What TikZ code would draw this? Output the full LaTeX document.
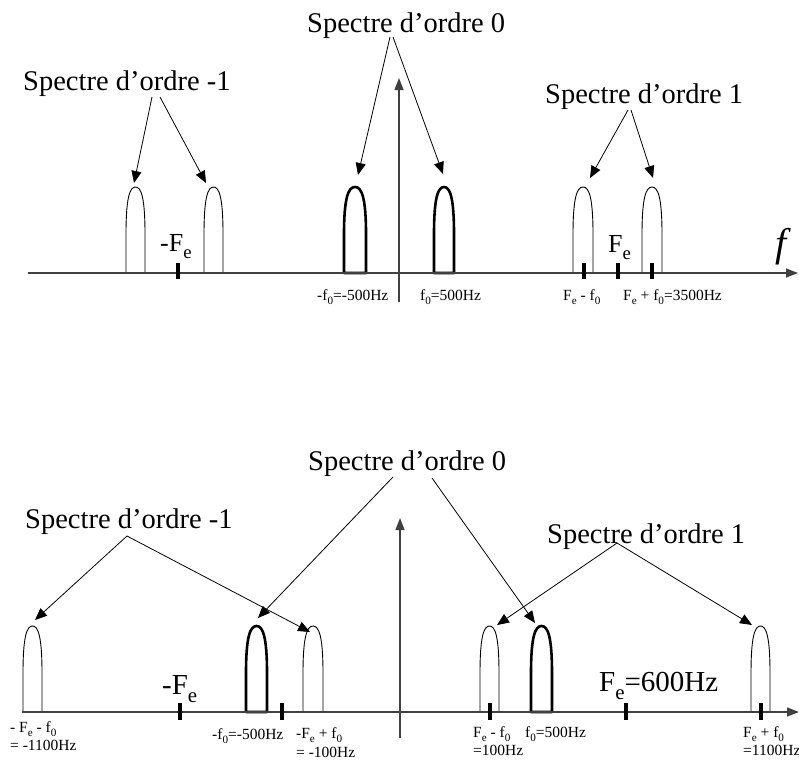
\documentclass[tikz,border=0pt]{standalone}
\usepackage{fontspec}
\setmainfont{Liberation Serif}
\usetikzlibrary{arrows.meta}
\newcommand\sbs[1]{\raisebox{-0.28em}{\scalebox{0.72}{#1}}}
\newcommand\drawlobe[5]{%
  \draw[#5] (#1,#3) -- (#1,{#3-0.45*(#3-#4)})
    .. controls (#1,{#4+0.12*(#3-#4)}) and ({#1+0.2*(#2-#1)},#4) .. ({(#1+#2)/2},#4)
    .. controls ({#2-0.2*(#2-#1)},#4) and (#2,{#4+0.12*(#3-#4)}) .. (#2,{#3-0.45*(#3-#4)})
    -- (#2,#3) -- cycle;}
\tikzset{
  big/.style={anchor=base west,inner sep=0pt,font=\fontsize{28.5}{30}\selectfont},
  mid/.style={anchor=base west,inner sep=0pt,font=\fontsize{26}{28}\selectfont},
  small/.style={anchor=base west,inner sep=0pt,font=\fontsize{15.5}{17}\selectfont},
  axisline/.style={line width=1.4pt,draw=black!75,-{Triangle[length=12pt,width=9pt]}},
  pointer/.style={line width=0.8pt,-{Triangle[length=12pt,width=10pt]}},
  thin lobe/.style={line width=0.9pt},
  thick lobe/.style={line width=2.6pt,line join=round},
  tickmark/.style={line width=3.5pt}
}
\begin{document}
\begin{tikzpicture}[x=1pt,y=-1pt]
\useasboundingbox (0,0) rectangle (799,771);
% ================= TOP =================
\drawlobe{126}{145}{273}{187}{thin lobe}
\drawlobe{204}{223}{273}{187}{thin lobe}
\drawlobe{344}{366}{273}{187}{thick lobe}
\drawlobe{434}{454}{273}{187}{thick lobe}
\drawlobe{573}{593}{273}{187}{thin lobe}
\drawlobe{642}{662}{273}{187}{thin lobe}
\coordinate (ha) at (28,273);
\coordinate (hb) at (798,273);
\draw[axisline] (ha) -- (hb);
\coordinate (va) at (399,302);
\coordinate (vb) at (399,78);
\draw[axisline] (va) -- (vb);
\foreach \x/\n in {178/ta,584/tb,618/tc,652/td}{
  \coordinate (\n1) at (\x,263); \coordinate (\n2) at (\x,279);
  \draw[tickmark] (\n1) -- (\n2);}
\node[big] (tm1) at (23,90) {Spectre d’ordre -1};
\node[big] (t0) at (307,32) {Spectre d’ordre 0};
\node[big] (tp1) at (545,103) {Spectre d’ordre 1};
\node[mid] (tfe1) at (160,251) {-F\sbs{e}};
\node[mid] (tfe2) at (608,252) {F\sbs{e}};
\node[anchor=base west,inner sep=0pt,font=\fontsize{40}{42}\selectfont\itshape] (tf) at (775,256) {f};
\node[small] (tl1) at (317,300) {-f\sbs{0}=-500Hz};
\node[small] (tl2) at (420,300) {f\sbs{0}=500Hz};
\node[small] (tl3) at (563,300) {F\sbs{e} - f\sbs{0}};
\node[small] (tl4) at (623,300) {F\sbs{e} + f\sbs{0}=3500Hz};
\coordinate (am1a) at (152,97); \coordinate (am1b) at (160,97);
\coordinate (ta1) at (134,183); \coordinate (ta2) at (206,183);
\coordinate (a0a) at (390,37); \coordinate (a0b) at (393,37);
\coordinate (ta3) at (358,175); \coordinate (ta4) at (443,174);
\coordinate (ap1a) at (628,110); \coordinate (ap1b) at (631,110);
\coordinate (ta5) at (590,178); \coordinate (ta6) at (653,178);
\draw[pointer] (am1a) -- (ta1);
\draw[pointer] (am1b) -- (ta2);
\draw[pointer] (a0a) -- (ta3);
\draw[pointer] (a0b) -- (ta4);
\draw[pointer] (ap1a) -- (ta5);
\draw[pointer] (ap1b) -- (ta6);
% ================= BOTTOM =================
\drawlobe{23}{42}{712}{626}{thin lobe}
\drawlobe{246}{267}{712}{626}{thick lobe}
\drawlobe{303}{323}{712}{626}{thin lobe}
\drawlobe{480}{499}{712}{626}{thin lobe}
\drawlobe{531}{552}{712}{626}{thick lobe}
\drawlobe{751}{770}{712}{626}{thin lobe}
\coordinate (hc) at (22,712);
\coordinate (hd) at (799,712);
\draw[axisline] (hc) -- (hd);
\coordinate (vc) at (400,738);
\coordinate (vd) at (400,518);
\draw[axisline] (vc) -- (vd);
\foreach \x/\n in {180/ba,282/bb,490/bc,626/bd,761/be}{
  \coordinate (\n1) at (\x,703); \coordinate (\n2) at (\x,720);
  \draw[tickmark] (\n1) -- (\n2);}
\node[big] (bm1) at (25,528) {Spectre d’ordre -1};
\node[big] (b0) at (308,470) {Spectre d’ordre 0};
\node[big] (bp1) at (547,543) {Spectre d’ordre 1};
\node[anchor=base west,inner sep=0pt,font=\fontsize{29}{31}\selectfont] (bfe1) at (162,694) {-F\sbs{e}};
\node[anchor=base west,inner sep=0pt,font=\fontsize{29}{31}\selectfont] (bfe2) at (599,691) {F\sbs{e}=600Hz};
\node[small] (bl1) at (10,732) {- F\sbs{e} - f\sbs{0}};
\node[small] (bl1b) at (10,750) {= -1100Hz};
\node[small] (bl2) at (212,739) {-f\sbs{0}=-500Hz};
\node[small] (bl3) at (296,738) {-F\sbs{e} + f\sbs{0}};
\node[small] (bl3b) at (296,757) {= -100Hz};
\node[small] (bl4) at (473,737) {F\sbs{e} - f\sbs{0}};
\node[small] (bl4b) at (473,755) {=100Hz};
\node[small] (bl5) at (525,737) {f\sbs{0}=500Hz};
\node[small] (bl6) at (743,737) {F\sbs{e} + f\sbs{0}};
\node[small] (bl6b) at (743,755) {=1100Hz};
\coordinate (bam1) at (127,536);
\coordinate (ba1) at (35,620); \coordinate (ba2) at (310,632);
\coordinate (ba0a) at (393,477); \coordinate (ba0b) at (432,478);
\coordinate (ba3) at (258,618); \coordinate (ba4) at (535,623);
\coordinate (bap1) at (617,543);
\coordinate (ba5) at (497,625); \coordinate (ba6) at (752,625);
\draw[pointer] (bam1) -- (ba1);
\draw[pointer] (bam1) -- (ba2);
\draw[pointer] (ba0a) -- (ba3);
\draw[pointer] (ba0b) -- (ba4);
\draw[pointer] (bap1) -- (ba5);
\draw[pointer] (bap1) -- (ba6);
\end{tikzpicture}
\end{document}
